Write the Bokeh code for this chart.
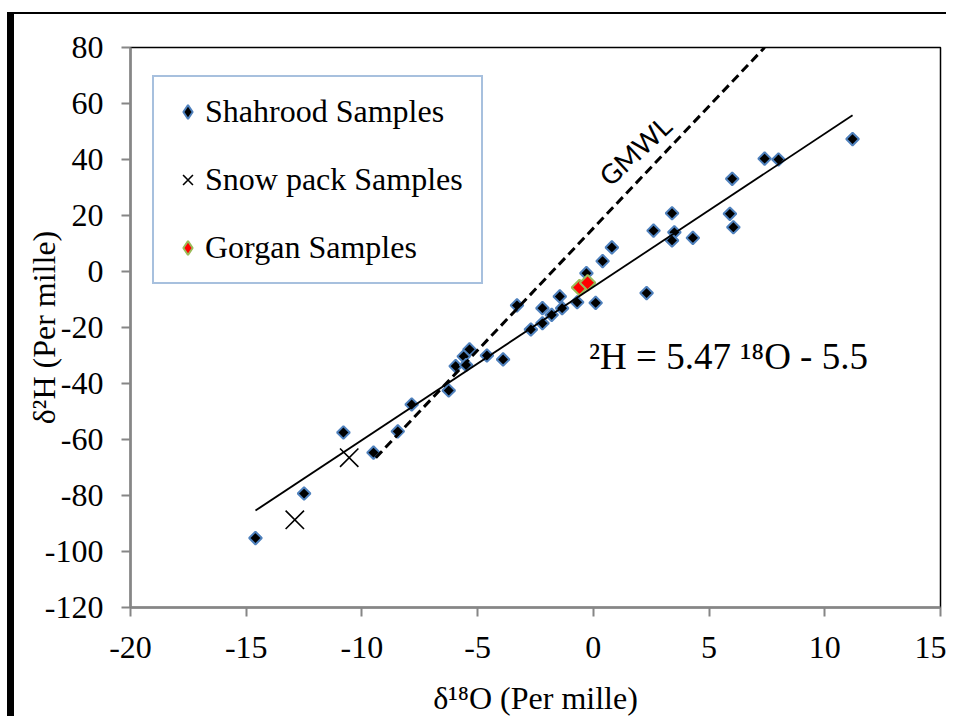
from bokeh.plotting import figure
from bokeh.models import Range1d, Legend, LegendItem, Label, FixedTicker, CustomJSTickFormatter
from bokeh.embed import file_html
from bokeh.resources import INLINE

# ---- data ----
shahrood_x = [-14.6, -12.5, -10.8, -9.5, -8.45, -7.85, -6.25, -5.95, -5.6, -5.35,
              -5.5, -4.6, -3.9, -3.3, -2.7, -2.2, -2.2, -1.8, -1.45, -1.35,
              -0.7, 0.1, -0.3, 0.4, 0.8, 2.3, 2.6, 3.4, 3.5, 3.4,
              4.3, 5.9, 6.05, 6.0, 7.4, 8.0, 11.2]
shahrood_y = [-95.2, -79.3, -57.5, -64.7, -57.1, -47.5, -42.5, -33.8, -30.3, -27.8,
              -33.4, -30.0, -31.4, -12.1, -20.7, -18.5, -13.1, -15.5, -8.9, -13.1,
              -11.0, -11.2, -0.6, 3.7, 8.6, -7.7, 14.6, 20.8, 14.0, 11.1,
              12.0, 20.6, 15.8, 33.1, 40.3, 40.0, 47.3]

snow_x = [-12.9, -10.55]
snow_y = [-88.7, -66.5]

gorgan_x = [-0.6, -0.25]
gorgan_y = [-5.7, -4.0]

# regression line  2H = 5.47 18O - 5.5  (end points as drawn)
reg_x = [-14.6, 11.2]
reg_y = [-85.4, 55.8]

# GMWL dashed line (end points as drawn)
gmwl_x = [-9.4, 7.4]
gmwl_y = [-66.5, 80.0]

x_ticks = [-20, -15, -10, -5, 0, 5, 10, 15]
x_tick_labels = ["-20", "-15", "-10", "-5", "0", "5", "10", "15"]
y_ticks = [-120, -100, -80, -60, -40, -20, 0, 20, 40, 60, 80]
y_tick_labels = ["-120", "-100", "-80", "-60", "-40", "-20", "0", "20", "40", "60", "80"]

SERIF = "Liberation Serif"
FS = "32px"
AXIS_GRAY = "#868686"
SH_FILL, SH_LINE = "black", "#4F81BD"
GO_FILL, GO_LINE = "#FF0000", "#9BBB59"
NAN = float("nan")

p = figure(width=939, height=704,
           x_range=Range1d(-20, 15), y_range=Range1d(-120, 80),
           output_backend="svg", toolbar_location=None,
           min_border_left=116, min_border_right=13,
           min_border_top=33, min_border_bottom=111)
p.styles = {"border-left": "7px solid black", "border-top": "2px solid black",
            "margin-top": "12px", "margin-left": "7px"}

p.background_fill_color = "white"
p.border_fill_color = "white"
p.outline_line_color = "black"
p.outline_line_width = 1.5
p.xgrid.visible = False
p.ygrid.visible = False

FMT_CODE = "const i = tv.indexOf(tick); return i >= 0 ? tl[i] : '';"

for ax, ticks, labels in ((p.xaxis[0], x_ticks, x_tick_labels),
                          (p.yaxis[0], y_ticks, y_tick_labels)):
    ax.ticker = FixedTicker(ticks=ticks)
    ax.formatter = CustomJSTickFormatter(args=dict(tv=ticks, tl=labels), code=FMT_CODE)
    ax.axis_line_color = AXIS_GRAY
    ax.axis_line_width = 2.5
    ax.major_tick_line_color = AXIS_GRAY
    ax.major_tick_line_width = 2
    ax.major_tick_in = 0
    ax.major_tick_out = 9
    ax.minor_tick_line_color = None
    ax.major_label_text_font = SERIF
    ax.major_label_text_font_size = FS
    ax.major_label_text_font_style = "normal"
    ax.major_label_text_color = "black"
    ax.axis_label_text_font = SERIF
    ax.axis_label_text_font_size = FS
    ax.axis_label_text_font_style = "normal"
    ax.axis_label_text_color = "black"

p.xaxis[0].axis_label = "δ¹⁸O (Per mille)"
p.xaxis[0].major_label_standoff = 20
p.xaxis[0].axis_label_standoff = 19
p.yaxis[0].axis_label = "δ²H (Per mille)"
p.yaxis[0].major_label_standoff = 18
p.yaxis[0].axis_label_standoff = -20

# ---- markers ----
r_sh = p.scatter(shahrood_x, shahrood_y, marker="square", angle=0.785398, size=9,
                 fill_color=SH_FILL, line_color=SH_LINE, line_width=2)
r_sn = p.scatter(snow_x, snow_y, marker="x", size=26,
                 line_color="black", line_width=1.6)
r_go = p.scatter(gorgan_x, gorgan_y, marker="square", angle=0.785398, size=11,
                 fill_color=GO_FILL, line_color=GO_LINE, line_width=2)

# legend-only glyphs (diamond shape in the key, nothing drawn in the plot)
l_sh = p.scatter([NAN], [NAN], marker="diamond", fill_color=SH_FILL, line_color=SH_LINE, line_width=2)
l_go = p.scatter([NAN], [NAN], marker="diamond", fill_color=GO_FILL, line_color=GO_LINE, line_width=2)

# ---- lines ----
p.line(reg_x, reg_y, line_color="black", line_width=1.8)
p.line(gmwl_x, gmwl_y, line_color="black", line_width=3, line_dash="9 5")

# ---- texts ----
p.add_layout(Label(x=1.8, y=43.2, text="GMWL", angle=0.75,
                   text_font="Lato", text_font_size="27px", text_color="black",
                   text_align="center", text_baseline="middle"))
p.add_layout(Label(x=-0.19, y=-30.5, text="²H = 5.47 ¹⁸O - 5.5",
                   text_font=SERIF, text_font_size="37px", text_color="black",
                   text_align="left", text_baseline="alphabetic"))

# ---- legend ----
legend = Legend(items=[LegendItem(label="Shahrood Samples", renderers=[l_sh]),
                       LegendItem(label="Snow pack Samples", renderers=[r_sn]),
                       LegendItem(label="Gorgan Samples", renderers=[l_go])],
                location=(22, 323), margin=0, padding=16, spacing=31,
                glyph_width=35, glyph_height=37, label_height=37, label_width=260,
                label_standoff=0,
                label_text_font=SERIF, label_text_font_size=FS,
                label_text_color="black",
                border_line_color="#4F81BD", border_line_width=2,
                background_fill_color="white", background_fill_alpha=1)
p.add_layout(legend)

open("out.html", "w").write(file_html(p, INLINE))
